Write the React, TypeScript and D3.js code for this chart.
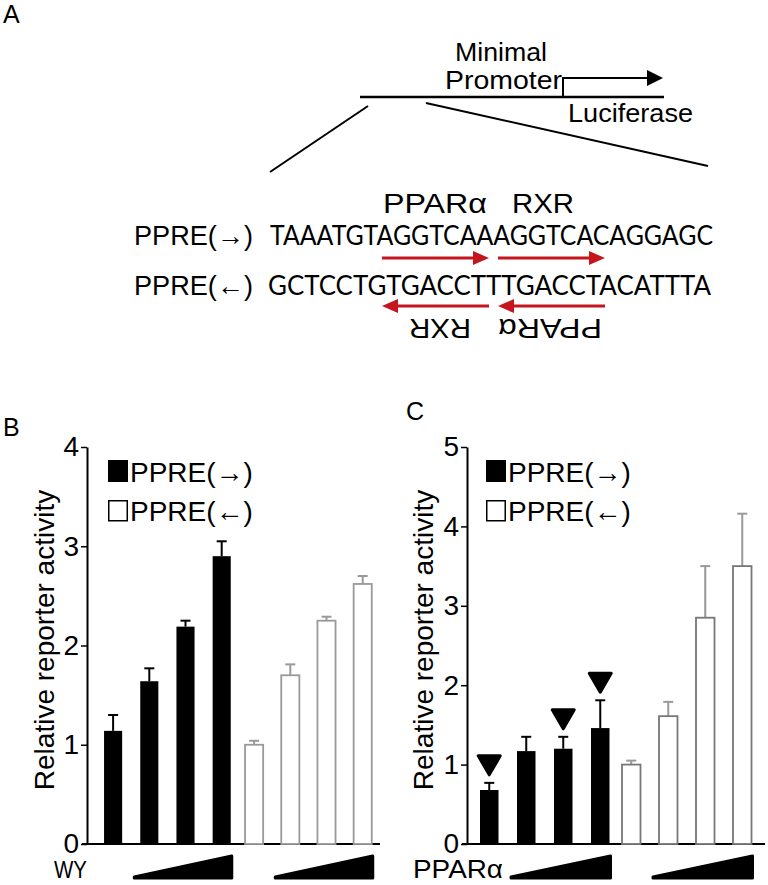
import { useEffect, useRef } from 'react';
import * as d3 from 'd3';

// Sequences of the two reporter constructs
const seqFwd = 'TAAATGTAGGTCAAAGGTCACAGGAGC';
const seqRev = 'GCTCCTGTGACCTTTGACCTACATTTA';

// Categories
const constructs = ['PPRE(→)', 'PPRE(←)'];
const doses = ['0', '1', '2', '3'];

// Panel B: WY dose series (mean, SD)
const wyFwd = [1.14, 1.64, 2.19, 2.9];
const wyFwdErr = [0.16, 0.13, 0.06, 0.15];
const wyRev = [1.0, 1.7, 2.25, 2.62];
const wyRevErr = [0.04, 0.11, 0.04, 0.08];
const wyTicks = [0, 1, 2, 3, 4];

// Panel C: PPARalpha dose series (mean, SD)
const pparFwd = [0.68, 1.17, 1.2, 1.46];
const pparFwdErr = [0.09, 0.18, 0.15, 0.35];
const pparRev = [1.0, 1.61, 2.85, 3.5];
const pparRevErr = [0.05, 0.18, 0.65, 0.66];
const pparMarked = [true, false, true, true];
const pparTicks = [0, 1, 2, 3, 4, 5];

const FONT = '"Liberation Sans", Arial, sans-serif';
const SEQ_FONT = 'Lato, "Liberation Sans", sans-serif';
const RED = '#c4161c';

const txt = (g, x, y, s, size, opts = {}) => {
    const t = g.append('text')
        .attr('x', x)
        .attr('y', y)
        .attr('font-family', opts.font || FONT)
        .attr('font-size', size)
        .attr('fill', '#000')
        .text(s);
    if (opts.len) t.attr('textLength', opts.len).attr('lengthAdjust', 'spacingAndGlyphs');
    if (opts.anchor) t.attr('text-anchor', opts.anchor);
    if (opts.transform) t.attr('transform', opts.transform);
    return t;
};

const drawSchematic = (svg) => {
    const g = svg.append('g');
    txt(g, 3, 23, 'A', 25);

    // construct line + promoter arrow
    g.append('line').attr('x1', 360).attr('x2', 664).attr('y1', 97).attr('y2', 97)
        .attr('stroke', '#000').attr('stroke-width', 2.5);
    g.append('path').attr('d', 'M563,97 L563,78 L649,78')
        .attr('fill', 'none').attr('stroke', '#000').attr('stroke-width', 2);
    g.append('path').attr('d', 'M647,70 L663,78 L647,86 Z').attr('fill', '#000');
    txt(g, 455, 61, 'Minimal', 26, { len: 92 });
    txt(g, 445, 89, 'Promoter', 26, { len: 117 });
    txt(g, 568, 122, 'Luciferase', 26, { len: 125 });

    // zoom lines
    g.append('line').attr('x1', 368).attr('y1', 106).attr('x2', 270).attr('y2', 172)
        .attr('stroke', '#000').attr('stroke-width', 2);
    g.append('line').attr('x1', 426).attr('y1', 103).attr('x2', 708).attr('y2', 166)
        .attr('stroke', '#000').attr('stroke-width', 2);

    // half-site labels
    txt(g, 383, 213, 'PPARα', 28, { len: 104 });
    txt(g, 512, 213, 'RXR', 28, { len: 62 });

    txt(g, 134, 245, 'PPRE(→)', 27, { len: 119 });
    txt(g, 270, 245, seqFwd, 27, { len: 443, font: SEQ_FONT });
    txt(g, 134, 295, 'PPRE(←)', 27, { len: 119 });
    txt(g, 268, 295, seqRev, 27, { len: 443, font: SEQ_FONT });

    // red arrows
    const arrow = (x1, x2, y) => {
        const dir = Math.sign(x2 - x1);
        g.append('line').attr('x1', x1).attr('x2', x2 - dir * 14).attr('y1', y).attr('y2', y)
            .attr('stroke', RED).attr('stroke-width', 3);
        g.append('path')
            .attr('d', `M${x2 - dir * 16},${y - 7} L${x2},${y} L${x2 - dir * 16},${y + 7} Z`)
            .attr('fill', RED);
    };
    arrow(382, 489, 258);
    arrow(498, 605, 258);
    arrow(489, 382, 306);
    arrow(605, 498, 306);

    // upside-down labels
    txt(g, 440, 339, 'RXR', 28, { len: 62, anchor: 'middle', transform: 'rotate(180,440,329)' });
    txt(g, 550, 339, 'PPARα', 28, { len: 104, anchor: 'middle', transform: 'rotate(180,550,329)' });
};

const drawPanel = (svg, c) => {
    const g = svg.append('g');
    const y = d3.scaleLinear().domain([0, c.max]).range([844, 447]);
    const outer = d3.scaleBand().domain(constructs).range([c.r0, c.r0 + 2 * c.groupStep]);
    const inner = d3.scaleBand().domain(doses).range([0, 4 * c.barStep])
        .paddingInner(0.5).paddingOuter(0.25);
    const bw = inner.bandwidth();
    const bx = (grp, i) => outer(grp) + inner(doses[i]);

    txt(g, c.letterX, c.letterY, c.letter, 25);

    // y axis
    const ax = g.append('g')
        .attr('transform', `translate(${c.axisX},0)`)
        .call(d3.axisLeft(y).tickValues(c.ticks).tickSize(6).tickSizeOuter(0).tickPadding(2)
            .tickFormat(d3.format('d')));
    ax.select('.domain').attr('stroke-width', 2);
    ax.selectAll('.tick line').attr('stroke-width', 1.5);
    ax.selectAll('.tick text').attr('font-size', 28).attr('font-family', FONT).attr('fill', '#000');

    txt(g, 0, 0, 'Relative reporter activity', 28, {
        anchor: 'middle',
        transform: `translate(${c.labelX},640) rotate(-90)`,
    });

    // x axis line
    g.append('line').attr('x1', c.axisX - 5).attr('x2', c.xEnd).attr('y1', y(0)).attr('y2', y(0))
        .attr('stroke', '#000').attr('stroke-width', 2);

    const series = [
        { grp: constructs[0], vals: c.fwd, errs: c.fwdErr, fill: '#000', stroke: 'none', err: '#000' },
        { grp: constructs[1], vals: c.rev, errs: c.revErr, fill: '#fff', stroke: c.whiteStroke, err: c.errGray },
    ];

    series.forEach((s) => {
        const data = s.vals.map((v, i) => ({ v, e: s.errs[i], i }));
        // error bars first, bars over them
        g.selectAll(null).data(data).enter().append('line')
            .attr('x1', (d) => bx(s.grp, d.i) + bw / 2)
            .attr('x2', (d) => bx(s.grp, d.i) + bw / 2)
            .attr('y1', (d) => y(d.v))
            .attr('y2', (d) => y(d.v + d.e))
            .attr('stroke', s.err).attr('stroke-width', 2);
        g.selectAll(null).data(data).enter().append('line')
            .attr('x1', (d) => bx(s.grp, d.i) + bw / 2 - 5)
            .attr('x2', (d) => bx(s.grp, d.i) + bw / 2 + 5)
            .attr('y1', (d) => y(d.v + d.e))
            .attr('y2', (d) => y(d.v + d.e))
            .attr('stroke', s.err).attr('stroke-width', 2);
        g.selectAll(null).data(data).enter().append('rect')
            .attr('x', (d) => bx(s.grp, d.i))
            .attr('y', (d) => y(d.v))
            .attr('width', bw)
            .attr('height', (d) => y(0) - y(d.v))
            .attr('fill', s.fill)
            .attr('stroke', s.stroke)
            .attr('stroke-width', 1.8);
    });

    // significance markers
    if (c.marked) {
        c.fwd.forEach((v, i) => {
            if (!c.marked[i]) return;
            const cx = bx(constructs[0], i) + bw / 2;
            const apex = y(v + c.fwdErr[i]) - 8;
            g.append('path')
                .attr('d', `M${cx - 11},${apex - 19} L${cx + 11},${apex - 19} L${cx},${apex} Z`)
                .attr('fill', '#000').attr('stroke', '#000').attr('stroke-width', 3)
                .attr('stroke-linejoin', 'round');
        });
    }

    // legend
    g.append('rect').attr('x', c.legendX).attr('y', 460).attr('width', 20).attr('height', 22).attr('fill', '#000');
    txt(g, c.legendX + 22, 482, constructs[0], 28);
    g.append('rect').attr('x', c.legendX + 0.75).attr('y', 500.75).attr('width', 18.5).attr('height', 20)
        .attr('fill', '#fff').attr('stroke', '#000').attr('stroke-width', 1.5);
    txt(g, c.legendX + 22, 521, constructs[1], 28);

    // dose wedges
    txt(g, c.treatX, 878, c.treat, c.treatSize, { len: c.treatW });
    constructs.forEach((grp) => {
        const xs = bx(grp, 1) - 6;
        const xe = bx(grp, 3) + bw + 1;
        g.append('path')
            .attr('d', `M${xs},877 L${xe},856 L${xe},878 L${xs},878 Z`)
            .attr('fill', '#000').attr('stroke', '#000').attr('stroke-width', 3)
            .attr('stroke-linejoin', 'round');
    });
};

const App = () => {
    const ref = useRef(null);

    useEffect(() => {
        const svg = d3.select(ref.current);
        svg.selectAll('*').remove();
        drawSchematic(svg);
        drawPanel(svg, {
            letter: 'B', letterX: 3, letterY: 436,
            max: 4, ticks: wyTicks, axisX: 87, r0: 95, groupStep: 141, barStep: 36.2, xEnd: 380,
            fwd: wyFwd, fwdErr: wyFwdErr, rev: wyRev, revErr: wyRevErr,
            whiteStroke: '#999', errGray: '#999',
            legendX: 108, labelX: 54,
            treat: 'WY', treatX: 54, treatW: 33, treatSize: 23,
        });
        drawPanel(svg, {
            letter: 'C', letterX: 406, letterY: 420,
            max: 5, ticks: pparTicks, axisX: 467, r0: 470.75, groupStep: 142, barStep: 37, xEnd: 765,
            fwd: pparFwd, fwdErr: pparFwdErr, rev: pparRev, revErr: pparRevErr,
            whiteStroke: '#777', errGray: '#999', marked: pparMarked,
            legendX: 486, labelX: 433,
            treat: 'PPARα', treatX: 413, treatW: 90, treatSize: 25,
        });
    }, []);

    return (
        <svg
            ref={ref}
            width={768}
            height={885}
            style={{ position: 'absolute', left: 0, top: 0, background: '#fff' }}
        />
    );
};

export default App;
